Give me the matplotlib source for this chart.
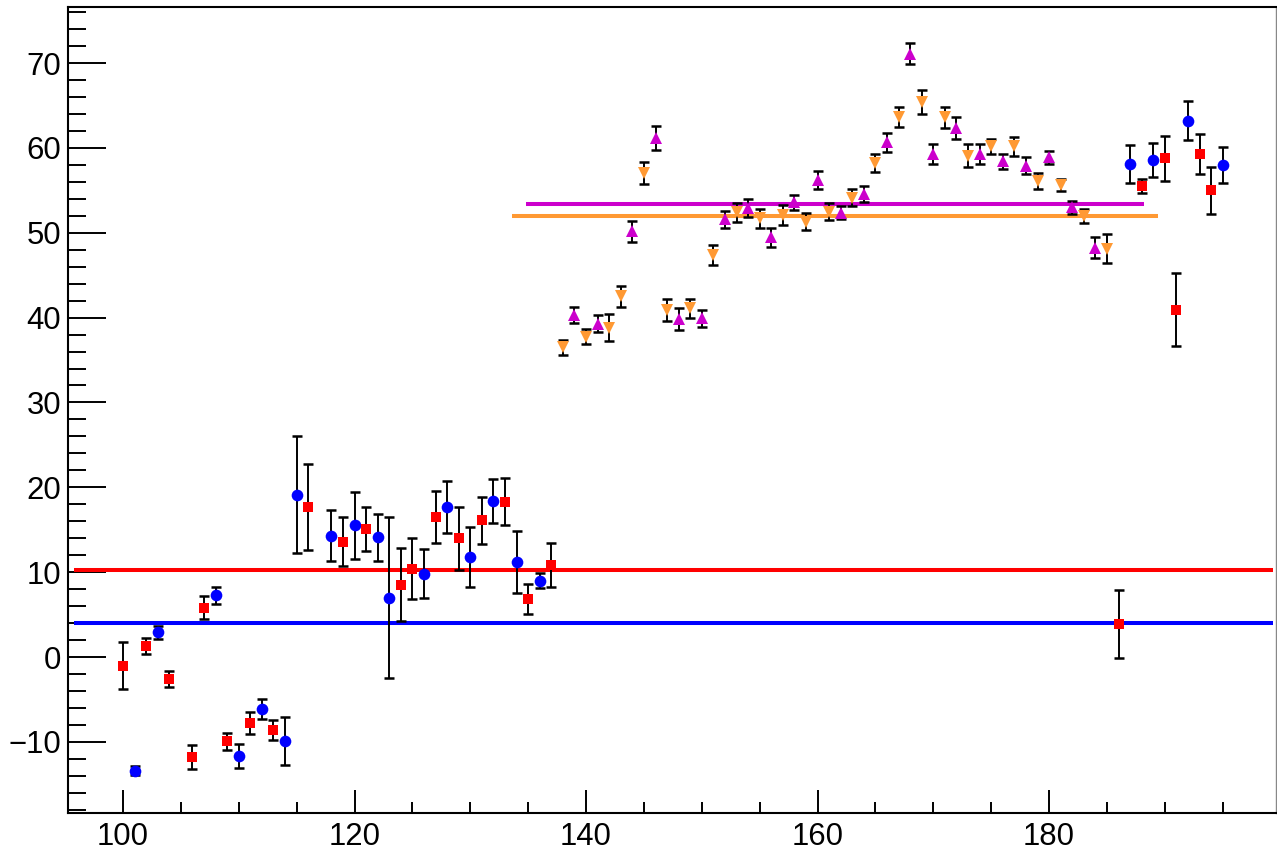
import matplotlib
matplotlib.use('Agg')
import matplotlib.pyplot as plt
from matplotlib.ticker import MultipleLocator

plt.rcParams['font.family'] = ['Liberation Sans', 'DejaVu Sans']

# blue circles
x_blue = [101, 103, 108, 110, 112, 114, 115, 118, 120, 122, 123, 126, 128, 130,
          132, 134, 136, 187, 189, 192, 195]
y_blue = [-13.4, 2.9, 7.3, -11.7, -6.1, -9.9, 19.1, 14.3, 15.5, 14.1, 7.0, 9.8,
          17.7, 11.8, 18.4, 11.2, 9.0, 58.1, 58.6, 63.2, 58.0]
e_blue = [0.5, 0.8, 1.0, 1.4, 1.2, 2.8, 6.9, 3.0, 3.9, 2.8, 9.5, 2.9, 3.1, 3.5,
          2.6, 3.6, 0.9, 2.2, 2.0, 2.3, 2.1]

# red squares
x_red = [100, 102, 104, 106, 107, 109, 111, 113, 116, 119, 121, 124, 125, 127,
         129, 131, 133, 135, 137, 186, 188, 190, 191, 193, 194]
y_red = [-1.0, 1.3, -2.6, -11.8, 5.8, -9.9, -7.8, -8.6, 17.7, 13.6, 15.1, 8.5,
         10.4, 16.5, 14.0, 16.1, 18.3, 6.8, 10.8, 3.9, 55.5, 58.8, 40.9, 59.3, 55.0]
e_red = [2.8, 0.9, 0.95, 1.45, 1.35, 1.0, 1.3, 1.2, 5.1, 2.85, 2.55, 4.3, 3.6,
         3.05, 3.7, 2.8, 2.8, 1.75, 2.6, 4.05, 0.8, 2.65, 4.3, 2.35, 2.8]

# magenta triangles up
x_mag = [139, 141, 144, 146, 148, 150, 152, 154, 156, 158, 160, 162, 164, 166,
         168, 170, 172, 174, 176, 178, 180, 182, 184]
y_mag = [40.35, 39.25, 50.15, 61.2, 39.85, 39.9, 51.6, 52.9, 49.45, 53.6, 56.2,
         52.35, 54.55, 60.65, 71.1, 59.3, 62.35, 59.3, 58.4, 57.9, 58.9, 53.0, 48.25]
e_mag = [0.95, 1.0, 1.2, 1.4, 1.3, 1.0, 1.0, 1.1, 1.15, 0.9, 1.1, 0.75, 0.95,
         1.15, 1.25, 1.2, 1.25, 1.2, 0.9, 1.0, 0.75, 0.75, 1.25]

# orange triangles down
x_org = [138, 140, 142, 143, 145, 147, 149, 151, 153, 155, 157, 159, 161, 163,
         165, 167, 169, 171, 173, 175, 177, 179, 181, 183, 185]
y_org = [36.5, 37.75, 38.8, 42.5, 57.0, 40.9, 41.1, 47.4, 52.4, 51.7, 52.1, 51.3,
         52.5, 54.1, 58.25, 63.65, 65.4, 63.6, 59.1, 60.2, 60.2, 56.1, 55.65, 52.0, 48.1]
e_org = [0.9, 0.85, 1.6, 1.2, 1.3, 1.3, 1.1, 1.2, 1.1, 1.1, 1.2, 1.0, 1.0, 1.0,
         1.05, 1.15, 1.4, 1.2, 1.3, 0.9, 1.1, 0.9, 0.7, 0.85, 1.7]

# horizontal mean lines: level, start, end
line_levels = [10.3, 4.05, 53.4, 51.95]
line_start = [95.8, 95.8, 134.8, 133.6]
line_end = [199.3, 199.3, 188.2, 189.4]
line_colors = ['#ff0000', '#0000ff', '#cc00cc', '#ff9933']

fig = plt.figure(figsize=(12.77, 8.51), dpi=100)
W, H = 1277, 851
ax = fig.add_axes([68 / W, (H - 813) / H, (1276 - 68) / W, (813 - 7) / H])

for lev, x0, x1, c in zip(line_levels, line_start, line_end, line_colors):
    ax.hlines(lev, x0, x1, colors=c, linewidth=2.9, zorder=2)

series = [
    (x_blue, y_blue, e_blue, 'o', '#0000ff', 8.4),
    (x_red, y_red, e_red, 's', '#ff0000', 7.6),
    (x_mag, y_mag, e_mag, '^', '#cc00cc', 8.4),
    (x_org, y_org, e_org, 'v', '#ff9933', 8.4),
]
for xs, ys, es, mk, col, ms in series:
    ax.errorbar(xs, ys, yerr=es, fmt='none', ecolor='black', elinewidth=1.4,
                capsize=3.4, capthick=1.8, zorder=3)
    ax.plot(xs, ys, linestyle='none', marker=mk, color=col, markersize=ms,
            markeredgewidth=0, zorder=4)

ax.set_xlim(95.25, 199.6)
ax.set_ylim(-18.38, 76.6)

ax.xaxis.set_major_locator(MultipleLocator(20))
ax.xaxis.set_minor_locator(MultipleLocator(5))
ax.yaxis.set_major_locator(MultipleLocator(10))
ax.yaxis.set_minor_locator(MultipleLocator(2))

ax.tick_params(which='both', direction='in', top=False, right=False,
               labelsize=22.4, width=1.4)
ax.tick_params(axis='x', which='major', length=16.5, pad=6.5)
ax.tick_params(axis='x', which='minor', length=8)
ax.tick_params(axis='y', which='major', length=27, pad=5)
ax.tick_params(axis='y', which='minor', length=13)

for side in ['left', 'bottom', 'top']:
    ax.spines[side].set_linewidth(1.5)
ax.spines['right'].set_linewidth(1.0)
ax.spines['right'].set_color('#888888')

fig.savefig('out.png', dpi=100)
